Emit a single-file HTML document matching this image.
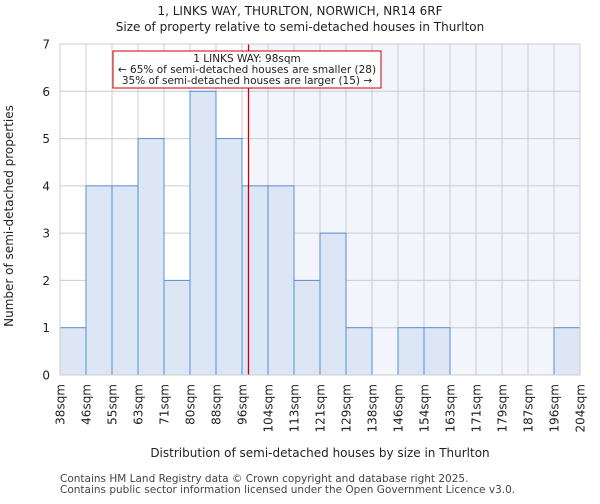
<!DOCTYPE html>
<html><head><meta charset="utf-8"><style>
body{margin:0;background:#fff;font-family:"DejaVu Sans","Liberation Sans",sans-serif}
</style></head><body>
<svg width="600" height="500" xmlns="http://www.w3.org/2000/svg" font-family="DejaVu Sans, Liberation Sans, sans-serif">
<g id="chart"></g>
</svg>
<script>
const categories=["38sqm","46sqm","55sqm","63sqm","71sqm","80sqm","88sqm","96sqm","104sqm","113sqm","121sqm","129sqm","138sqm","146sqm","154sqm","163sqm","171sqm","179sqm","187sqm","196sqm","204sqm"];
const counts=[1,4,4,5,2,6,5,4,4,2,3,1,0,1,1,0,0,0,0,1];
const yTicks=[0,1,2,3,4,5,6,7];
const binEdges=[38,46,55,63,71,80,88,96,104,113,121,129,138,146,154,163,171,179,187,196,204];
const subjectSize=98;
const L=60,R=580,T=44,B=375,yMax=7;
const n=counts.length,bw=(R-L)/n;
const x=i=>L+i*bw;
const y=v=>B-(v/yMax)*(B-T);
const ns="http://www.w3.org/2000/svg";
const g=document.getElementById('chart');
function el(t,a,txt){const e=document.createElementNS(ns,t);for(const k in a)e.setAttribute(k,a[k]);if(txt!==undefined)e.textContent=txt;g.appendChild(e);return e;}
let mi=0;for(let i=0;i<binEdges.length-1;i++){if(subjectSize>=binEdges[i]&&subjectSize<=binEdges[i+1]){mi=i;break;}}
const mx=x(mi)+(subjectSize-binEdges[mi])/(binEdges[mi+1]-binEdges[mi])*bw;
let s=el('rect',{x:mx,y:T,width:R-mx,height:B-T,fill:'#f3f5fd'});


for(let i=0;i<=n;i++){const l=el('line',{x1:x(i),x2:x(i),y1:T,y2:B,stroke:'#cccccc','stroke-width':1});

}
yTicks.forEach(v=>{const l=el('line',{x1:L,x2:R,y1:y(v),y2:y(v),stroke:'#cccccc','stroke-width':1});


const t=el('text',{x:L-10,y:y(v)+4.5,'text-anchor':'end','font-size':12,fill:'#222'},v);

});
counts.forEach((c,i)=>{if(c<=0)return;const r=el('rect',{x:x(i),y:y(c),width:bw,height:B-y(c),fill:'#dce6f4',stroke:'#5b8fd6','stroke-width':1});

});
categories.forEach((c,i)=>{const t=el('text',{transform:`translate(${x(i)+4.5},384) rotate(-90)`,'text-anchor':'end','font-size':12,fill:'#222'},c);

});
let m=el('line',{x1:mx,x2:mx,y1:T,y2:B,stroke:'#cc0000','stroke-width':1.3});


let bx=el('rect',{x:113,y:51,width:268,height:37,fill:'#fff',stroke:'#cc0000','stroke-width':1});


[["1 LINKS WAY: 98sqm",62],["← 65% of semi-detached houses are smaller (28)",73],["35% of semi-detached houses are larger (15) →",84]].forEach(a=>{const t=el('text',{x:247,y:a[1],'text-anchor':'middle','font-size':10.5,fill:'#222'},a[0]);

});
let ax=el('rect',{x:L,y:T,width:R-L,height:B-T,fill:'none',stroke:'#cccccc'});


let t1=el('text',{x:300,y:15,'text-anchor':'middle','font-size':12,fill:'#222'},"1, LINKS WAY, THURLTON, NORWICH, NR14 6RF");


let t2=el('text',{x:300,y:31,'text-anchor':'middle','font-size':12,fill:'#222'},"Size of property relative to semi-detached houses in Thurlton");


let xt=el('text',{x:320,y:457,'text-anchor':'middle','font-size':12,fill:'#222'},"Distribution of semi-detached houses by size in Thurlton");


let yt=el('text',{transform:'translate(13,216) rotate(-90)','text-anchor':'middle','font-size':12,fill:'#222'},"Number of semi-detached properties");


let f1=el('text',{x:60,y:482,'font-size':10.5,fill:'#444'},"Contains HM Land Registry data © Crown copyright and database right 2025.");


let f2=el('text',{x:60,y:493,'font-size':10.5,fill:'#444'},"Contains public sector information licensed under the Open Government Licence v3.0.");


</script>
</body></html>
